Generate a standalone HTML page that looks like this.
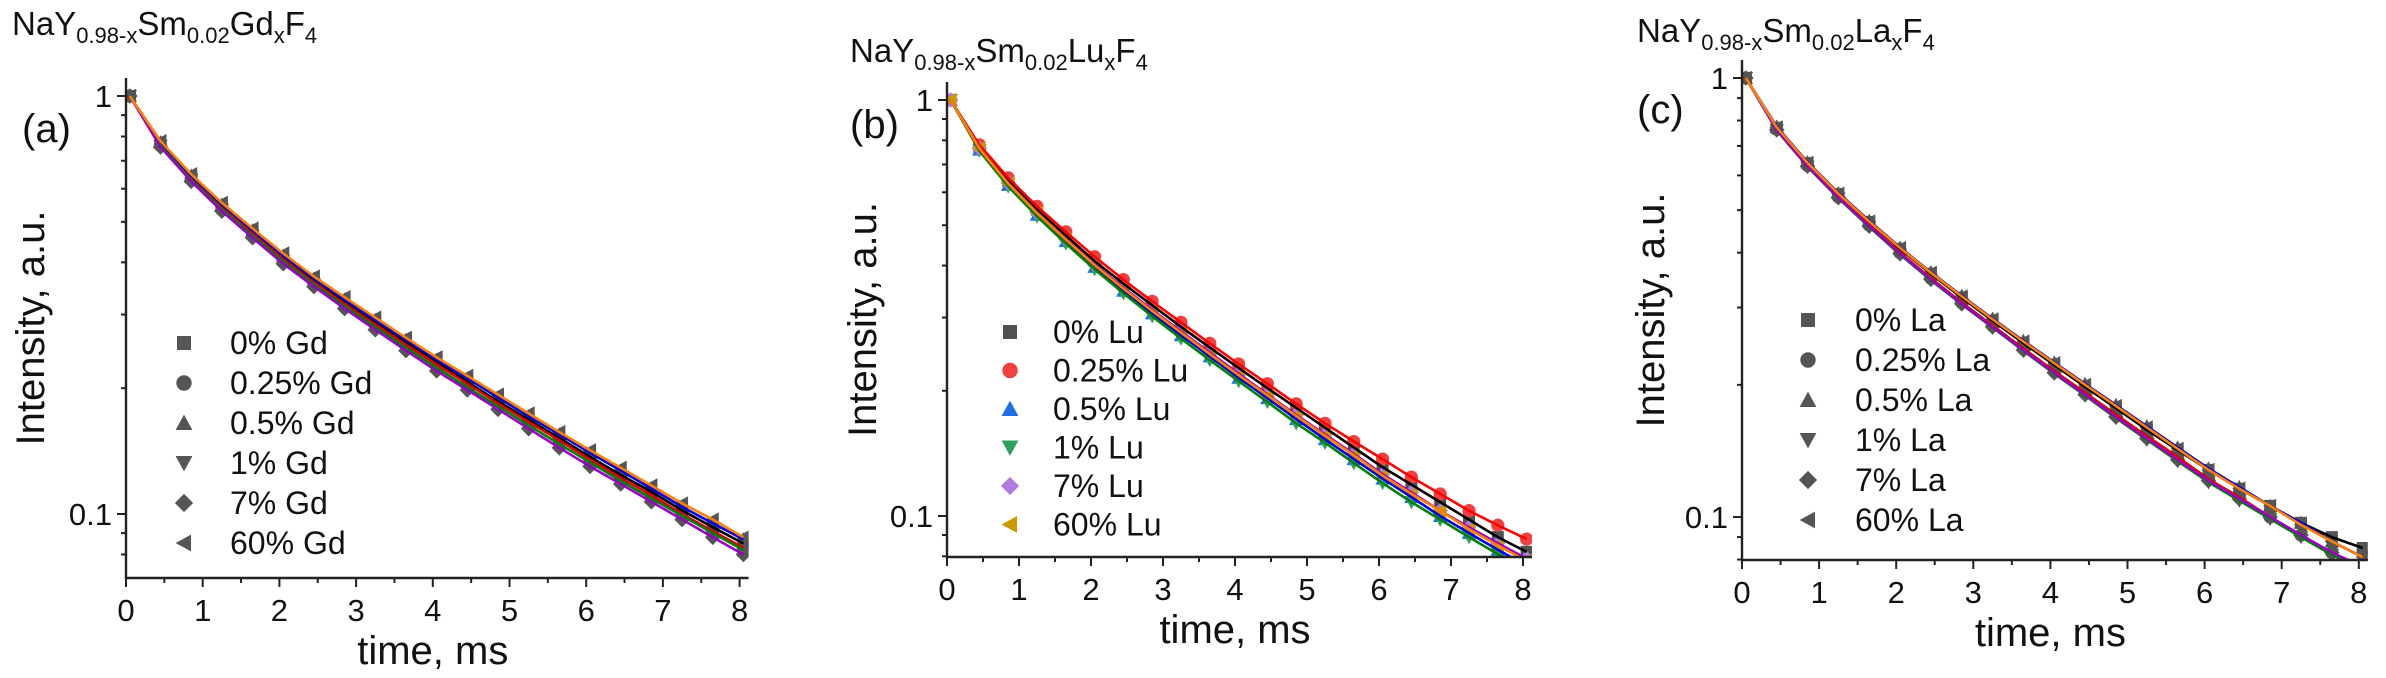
<!DOCTYPE html>
<html><head><meta charset="utf-8"><style>
html,body{margin:0;padding:0;background:#fff;}
svg{display:block;font-family:"Liberation Sans",Arial,sans-serif;}
</style></head><body>
<svg id="fig" width="2386" height="678" viewBox="0 0 2386 678"></svg>
<script>
// ---- data ----
const times = [0.05,0.45,0.85,1.25,1.65,2.05,2.45,2.85,3.25,3.65,4.05,4.45,4.85,5.25,5.65,6.05,6.45,6.85,7.25,7.65,8.05];
const xTicks = [0,1,2,3,4,5,6,7,8];
const yTickLabels = ["1","0.1"];
// panel (a) Gd
const gdLabels = ["0% Gd","0.25% Gd","0.5% Gd","1% Gd","7% Gd","60% Gd"];
const gd0  = [1.0,0.77,0.64,0.545,0.472,0.41,0.362,0.322,0.287,0.257,0.231,0.207,0.186,0.168,0.152,0.137,0.124,0.113,0.102,0.093,0.085];
const gd25 = [1.0,0.765,0.635,0.54,0.468,0.407,0.358,0.318,0.284,0.254,0.228,0.205,0.184,0.166,0.15,0.135,0.122,0.111,0.1,0.091,0.083];
const gd50 = [1.0,0.775,0.645,0.55,0.477,0.415,0.366,0.326,0.291,0.261,0.234,0.211,0.19,0.171,0.155,0.14,0.127,0.115,0.104,0.095,0.087];
const gd1  = [1.0,0.76,0.63,0.535,0.463,0.402,0.354,0.314,0.28,0.25,0.224,0.201,0.181,0.163,0.147,0.133,0.12,0.109,0.099,0.09,0.082];
const gd7  = [1.0,0.755,0.625,0.53,0.458,0.397,0.35,0.31,0.276,0.246,0.22,0.198,0.178,0.16,0.144,0.13,0.118,0.107,0.097,0.088,0.08];
const gd60 = [1.0,0.78,0.65,0.555,0.482,0.42,0.37,0.33,0.295,0.264,0.237,0.214,0.193,0.174,0.157,0.142,0.129,0.117,0.106,0.097,0.088];
// panel (b) Lu
const luLabels = ["0% Lu","0.25% Lu","0.5% Lu","1% Lu","7% Lu","60% Lu"];
const lu0  = [1.0,0.77,0.64,0.545,0.472,0.41,0.362,0.321,0.285,0.254,0.227,0.203,0.182,0.163,0.146,0.131,0.119,0.108,0.098,0.089,0.082];
const lu25 = [1.0,0.78,0.65,0.555,0.482,0.42,0.37,0.328,0.292,0.26,0.232,0.208,0.186,0.167,0.151,0.137,0.124,0.113,0.103,0.095,0.088];
const lu50 = [1.0,0.76,0.625,0.53,0.458,0.397,0.348,0.307,0.272,0.242,0.215,0.192,0.171,0.153,0.137,0.123,0.111,0.1,0.091,0.083,0.076];
const lu1  = [1.0,0.755,0.62,0.525,0.452,0.392,0.343,0.302,0.267,0.237,0.211,0.188,0.167,0.15,0.134,0.12,0.108,0.098,0.089,0.081,0.074];
const lu7  = [1.0,0.765,0.632,0.537,0.464,0.403,0.354,0.313,0.278,0.247,0.22,0.196,0.175,0.157,0.141,0.126,0.114,0.103,0.094,0.086,0.079];
const lu60 = [1.0,0.765,0.63,0.535,0.462,0.401,0.352,0.311,0.276,0.245,0.218,0.195,0.174,0.156,0.14,0.125,0.113,0.103,0.093,0.085,0.078];
// panel (c) La
const laLabels = ["0% La","0.25% La","0.5% La","1% La","7% La","60% La"];
const la0  = [1.0,0.77,0.64,0.544,0.47,0.408,0.358,0.316,0.28,0.249,0.222,0.198,0.177,0.158,0.142,0.128,0.116,0.106,0.097,0.09,0.085];
const la25 = [1.0,0.765,0.632,0.536,0.462,0.4,0.35,0.308,0.273,0.242,0.215,0.192,0.171,0.153,0.137,0.122,0.111,0.1,0.091,0.083,0.077];
const la50 = [1.0,0.775,0.643,0.547,0.473,0.411,0.361,0.319,0.283,0.252,0.225,0.201,0.18,0.161,0.144,0.129,0.117,0.106,0.097,0.088,0.081];
const la1  = [1.0,0.76,0.628,0.532,0.458,0.396,0.346,0.305,0.27,0.239,0.212,0.189,0.168,0.15,0.134,0.12,0.109,0.099,0.09,0.082,0.076];
const la7  = [1.0,0.762,0.63,0.534,0.46,0.398,0.348,0.306,0.271,0.24,0.213,0.19,0.169,0.151,0.135,0.121,0.11,0.1,0.091,0.083,0.077];
const la60 = [1.0,0.772,0.641,0.545,0.471,0.41,0.36,0.318,0.282,0.251,0.224,0.2,0.179,0.16,0.143,0.128,0.116,0.106,0.096,0.088,0.081];

const NS="http://www.w3.org/2000/svg";
const svg=document.getElementById('fig');
function mk(tag,attrs,parent){const e=document.createElementNS(NS,tag);for(const k in attrs)e.setAttribute(k,attrs[k]);(parent||svg).appendChild(e);return e;}

const panels=[
 {id:'a',x0:126,xs:76.7,y1:96,dec:418,yb:578,ymin:0.0703,title:['Gd'],tx:12,ty:35,lx:22,ly:142,ytx:44,
  series:[gd0,gd25,gd50,gd1,gd7,gd60],labels:gdLabels,
  mcol:['#555','#555','#555','#555','#555','#555'],
  lcol:['#000','#e00000','#0000e0','#008000','#9a00c8','#ff8000'],
  legX:184,legTX:230,legY:343,legDY:40},
 {id:'b',x0:947,xs:72,y1:100,dec:416,yb:557,ymin:0.0797,title:['Lu'],tx:850,ty:62,lx:850,ly:138,ytx:876,
  series:[lu0,lu25,lu50,lu1,lu7,lu60],labels:luLabels,
  mcol:['#505050','#f04040','#1f6fe0','#2ea060','#b07ce0','#cc9900'],
  lcol:['#000','#ff0000','#0000e0','#008000','#9a00c8','#ff8000'],
  legX:1010,legTX:1053,legY:332,legDY:38.5},
 {id:'c',x0:1742,xs:77.1,y1:78,dec:439,yb:560,ymin:0.0798,title:['La'],tx:1637,ty:42,lx:1637,ly:123,ytx:1664,
  series:[la0,la25,la50,la1,la7,la60],labels:laLabels,
  mcol:['#555','#555','#555','#555','#555','#555'],
  lcol:['#000','#e00000','#0000e0','#008000','#9a00c8','#ff8000'],
  legX:1808,legTX:1855,legY:320,legDY:40}
];
const shapes=['square','circle','up','down','diamond','left'];
function marker(g,shape,cx,cy,s,col){
  let e;
  if(shape==='square') e=mk('rect',{x:cx-s,y:cy-s,width:2*s,height:2*s,fill:col},g);
  else if(shape==='circle') e=mk('circle',{cx:cx,cy:cy,r:s*1.1,fill:col},g);
  else {
    let p;
    if(shape==='up') p=[[cx,cy-s*1.2],[cx+s*1.2,cy+s],[cx-s*1.2,cy+s]];
    else if(shape==='down') p=[[cx,cy+s*1.2],[cx+s*1.2,cy-s],[cx-s*1.2,cy-s]];
    else if(shape==='diamond') p=[[cx,cy-s*1.3],[cx+s*1.3,cy],[cx,cy+s*1.3],[cx-s*1.3,cy]];
    else p=[[cx-s*1.2,cy],[cx+s,cy-s*1.2],[cx+s,cy+s*1.2]];
    e=mk('polygon',{points:p.map(q=>q.join(',')).join(' '),fill:col},g);
  }
  return e;
}

panels.forEach(P=>{
  const X=t=>P.x0+t*P.xs;
  const Y=v=>P.y1-Math.log10(v)*P.dec;
  const xEnd=X(8)+9, yTop=P.y1-18;
  const g=mk('g',{});
  
  
  const el=P.title[0];
  const tt=mk('text',{x:P.tx,y:P.ty,'font-size':33,fill:'#111'},g);
  
  
  tt.innerHTML='NaY<tspan font-size="22" dy="8">0.98-x</tspan><tspan dy="-8">Sm</tspan><tspan font-size="22" dy="8">0.02</tspan><tspan dy="-8">'+el+'</tspan><tspan font-size="22" dy="8">x</tspan><tspan dy="-8">F</tspan><tspan font-size="22" dy="8">4</tspan>';
  const pl=mk('text',{x:P.lx,y:P.ly,'font-size':40,fill:'#111'},g);
  pl.textContent='('+P.id+')';
  
  
  const cp=mk('clipPath',{id:'clip'+P.id},g);
  mk('rect',{x:P.x0,y:yTop,width:xEnd-P.x0,height:P.yb-yTop},cp);
  const data=mk('g',{'clip-path':'url(#clip'+P.id+')'},g);
  
  
  P.series.forEach((s,i)=>{
    const sg=mk('g',{},data);
    
    
    s.forEach((v,j)=>{
      const m=marker(sg,shapes[i],X(times[j]),Y(v),6,P.mcol[i]);
      
      
    });
  });
  P.series.forEach((s,i)=>{
    const d=s.map((v,j)=>(j?'L':'M')+X(times[j]).toFixed(1)+','+Y(v).toFixed(1)).join(' ');
    const l=mk('path',{d:d,fill:'none',stroke:P.lcol[i],'stroke-width':2.6,'stroke-linejoin':'round'},data);
    
    
  });
  const ax=mk('path',{d:`M${P.x0},${yTop} L${P.x0},${P.yb} L${xEnd},${P.yb}`,fill:'none',stroke:'#222','stroke-width':2.4},g);
  
  
  xTicks.forEach(t=>{
    mk('line',{x1:X(t),x2:X(t),y1:P.yb,y2:P.yb+9,stroke:'#222','stroke-width':2},g);
    if(t<8) mk('line',{x1:X(t+0.5),x2:X(t+0.5),y1:P.yb,y2:P.yb+5,stroke:'#222','stroke-width':2},g);
    const tl=mk('text',{x:X(t),y:P.yb+43,'font-size':31,'text-anchor':'middle',fill:'#111'},g);
    tl.textContent=t;
    
    
  });
  [1,0.1].forEach((v,k)=>{
    mk('line',{x1:P.x0-9,x2:P.x0,y1:Y(v),y2:Y(v),stroke:'#222','stroke-width':2},g);
    const tl=mk('text',{x:P.x0-14,y:Y(v)+11,'font-size':31,'text-anchor':'end',fill:'#111'},g);
    tl.textContent=yTickLabels[k];
    
    
  });
  [0.2,0.3,0.4,0.5,0.6,0.7,0.8,0.9,0.07,0.08,0.09].forEach(v=>{
    if(v<P.ymin) return;
    mk('line',{x1:P.x0-5,x2:P.x0,y1:Y(v),y2:Y(v),stroke:'#222','stroke-width':2},g);
  });
  const cy=(yTop+P.yb)/2;
  const yt=mk('text',{x:P.ytx,y:cy,'font-size':40,'text-anchor':'middle',fill:'#111',transform:`rotate(-90 ${P.ytx} ${cy})`},g);
  yt.textContent='Intensity, a.u.';
  
  
  const xt=mk('text',{x:(P.x0+X(8))/2,y:P.yb+86,'font-size':40,'text-anchor':'middle',fill:'#111'},g);
  xt.textContent='time, ms';
  
  
  const lg=mk('g',{},g);
  
  
  P.labels.forEach((lab,i)=>{
    const yy=P.legY+i*P.legDY;
    const m=marker(lg,shapes[i],P.legX,yy,7,P.mcol[i]);
    
    
    const t=mk('text',{x:P.legTX,y:yy+11,'font-size':32,fill:'#111'},lg);
    t.textContent=lab;
    
    
  });
});
</script>
</body></html>
